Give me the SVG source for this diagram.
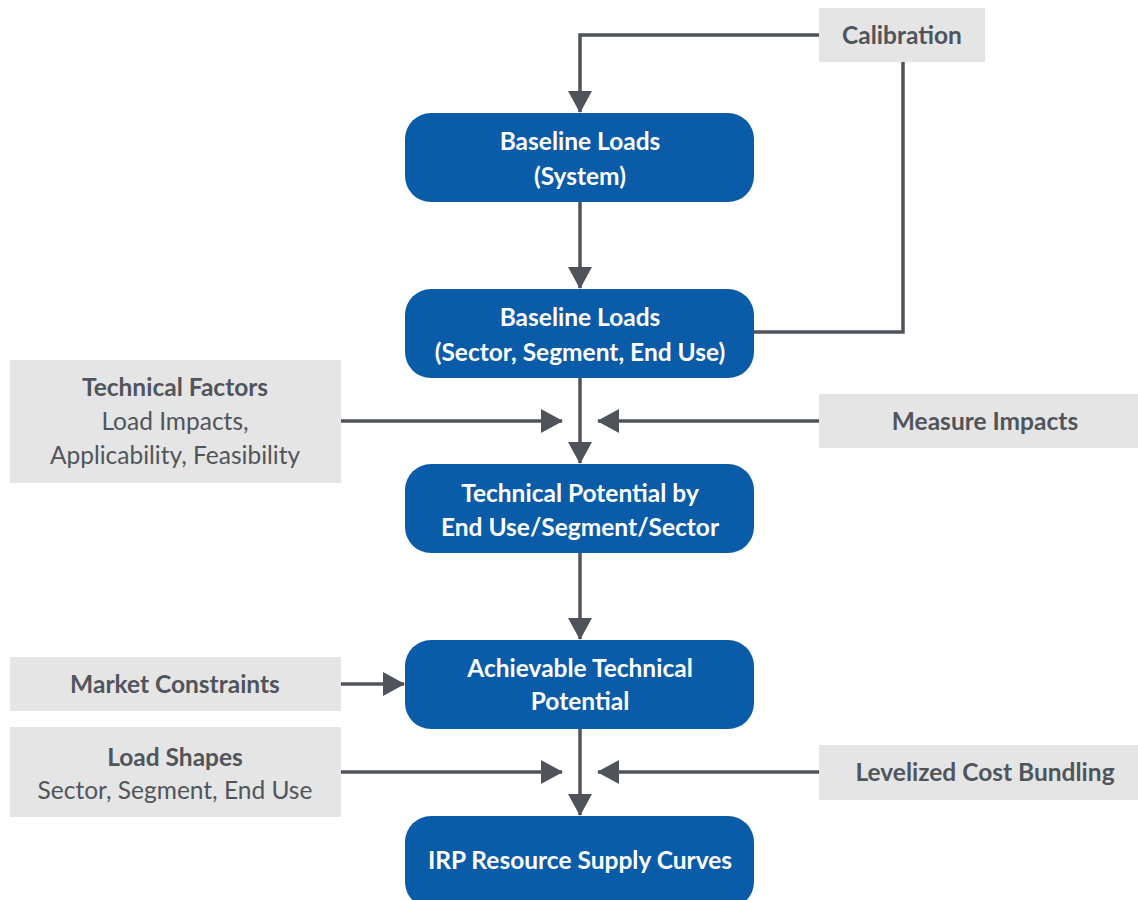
<svg xmlns="http://www.w3.org/2000/svg" width="1138" height="900" viewBox="0 0 1138 900">
<style>
.blue{fill:#0A5CA9;}
.gray{fill:#E5E5E5;}
.bt{font-family:Lato,"Liberation Sans",sans-serif;font-weight:bold;font-size:24.5px;fill:#ffffff;text-anchor:middle;}
.gt{font-family:Lato,"Liberation Sans",sans-serif;font-weight:bold;font-size:24.5px;fill:#50555b;text-anchor:middle;}
.gr{font-family:Lato,"Liberation Sans",sans-serif;font-size:24.5px;fill:#50555b;text-anchor:middle;}
.ln{fill:none;stroke:#4F545B;stroke-width:3.5;}
</style>
<defs>
<marker id="ah" markerUnits="userSpaceOnUse" markerWidth="22" markerHeight="24" viewBox="0 0 22 24" refX="21" refY="12" orient="auto">
<path d="M0,0 L22,12 L0,24 Z" fill="#4F545B"/>
</marker>
</defs>
<g id="connectors">
<path class="ln" d="M819,35 H580 V112" marker-end="url(#ah)"/>
<path class="ln" d="M903,62 V332 H754"/>
<path class="ln" d="M580,202 V288" marker-end="url(#ah)"/>
<path class="ln" d="M580,378 V463" marker-end="url(#ah)"/>
<path class="ln" d="M341,421 H562" marker-end="url(#ah)"/>
<path class="ln" d="M819,421 H598" marker-end="url(#ah)"/>
<path class="ln" d="M580,553 V639" marker-end="url(#ah)"/>
<path class="ln" d="M341,684 H404" marker-end="url(#ah)"/>
<path class="ln" d="M580,729 V815" marker-end="url(#ah)"/>
<path class="ln" d="M341,772 H562" marker-end="url(#ah)"/>
<path class="ln" d="M819,772 H598" marker-end="url(#ah)"/>
</g>
<g id="calibration">
<rect class="gray" x="819" y="8" width="166" height="54"/>
<text class="gt" x="902" y="44">Calibration</text>
</g>
<g id="baseline-system">
<rect class="blue" x="405" y="113" width="349" height="89" rx="26"/>
<text class="bt" x="580" y="150">Baseline Loads</text>
<text class="bt" x="580" y="185">(System)</text>
</g>
<g id="baseline-sector">
<rect class="blue" x="405" y="289" width="349" height="89" rx="26"/>
<text class="bt" x="580" y="326">Baseline Loads</text>
<text class="bt" x="580" y="361">(Sector, Segment, End Use)</text>
</g>
<g id="technical-factors">
<rect class="gray" x="10" y="360" width="331" height="123"/>
<text class="gt" x="175" y="396">Technical Factors</text>
<text class="gr" x="175" y="430">Load Impacts,</text>
<text class="gr" x="175" y="464">Applicability, Feasibility</text>
</g>
<g id="measure-impacts">
<rect class="gray" x="819" y="394" width="319" height="54"/>
<text class="gt" x="985" y="430">Measure Impacts</text>
</g>
<g id="technical-potential">
<rect class="blue" x="405" y="464" width="349" height="89" rx="26"/>
<text class="bt" x="580" y="502">Technical Potential by</text>
<text class="bt" x="580" y="536">End Use/Segment/Sector</text>
</g>
<g id="market-constraints">
<rect class="gray" x="10" y="657" width="331" height="54"/>
<text class="gt" x="175" y="693">Market Constraints</text>
</g>
<g id="achievable">
<rect class="blue" x="405" y="640" width="349" height="89" rx="26"/>
<text class="bt" x="580" y="677">Achievable Technical</text>
<text class="bt" x="580" y="710">Potential</text>
</g>
<g id="load-shapes">
<rect class="gray" x="10" y="727" width="331" height="90"/>
<text class="gt" x="175" y="766">Load Shapes</text>
<text class="gr" x="175" y="799">Sector, Segment, End Use</text>
</g>
<g id="levelized">
<rect class="gray" x="819" y="745" width="319" height="55"/>
<text class="gt" x="985" y="781">Levelized Cost Bundling</text>
</g>
<g id="irp">
<rect class="blue" x="405" y="816" width="349" height="92" rx="26"/>
<text class="bt" x="580" y="869">IRP Resource Supply Curves</text>
</g>
</svg>
